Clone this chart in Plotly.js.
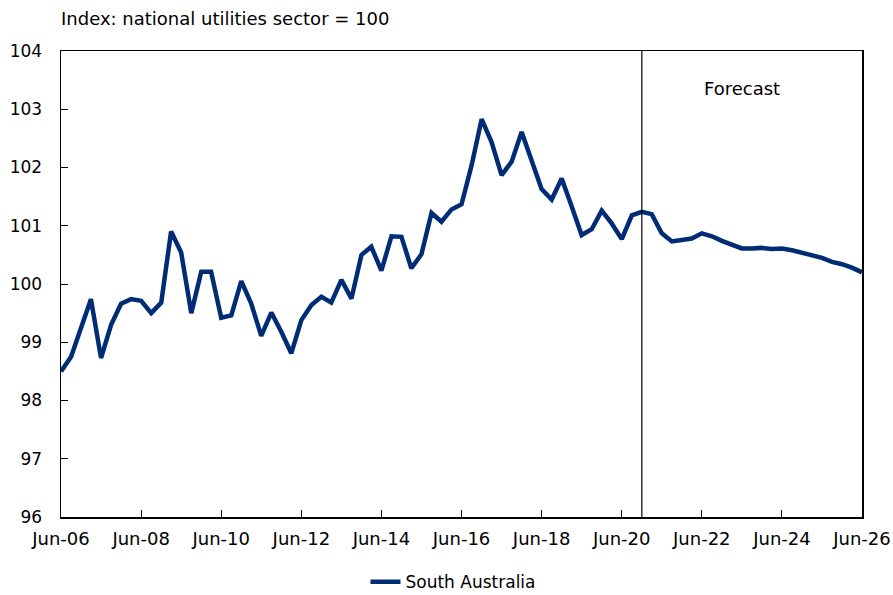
<!DOCTYPE html>
<html>
<head>
<meta charset="utf-8">
<script src="https://cdn.plot.ly/plotly-3.0.1.min.js"></script>
<style>
html,body{margin:0;padding:0;background:#fff;}
#chart{width:893px;height:595px;}
</style>
</head>
<body>
<div id="chart"></div>
<script>
// Quarterly index, Jun-06 .. Jun-26 (81 quarters)
const startYear = 2006;
const startMonth = 6;
const southAustralia = [
  98.50, 98.75, 99.25, 99.74, 98.73, 99.30, 99.66, 99.74, 99.71, 99.50,
  99.68, 100.90, 100.54, 99.50, 100.21, 100.21, 99.42, 99.46, 100.05, 99.67,
  99.11, 99.51, 99.18, 98.81, 99.38, 99.64, 99.78, 99.68, 100.07, 99.75,
  100.50, 100.64, 100.23, 100.82, 100.81, 100.27, 100.51, 101.22, 101.07, 101.28,
  101.37, 102.04, 102.83, 102.44, 101.87, 102.10, 102.61, 102.10, 101.63, 101.45,
  101.81, 101.34, 100.84, 100.94, 101.26, 101.04, 100.77, 101.18, 101.24, 101.20,
  100.87, 100.73, 100.76, 100.78, 100.87, 100.82, 100.74, 100.67, 100.61, 100.61,
  100.62, 100.60, 100.61, 100.58, 100.54, 100.51, 100.45, 100.38, 100.34, 100.28,
  100.20
];
const tickDates = ['2006-06-01','2008-06-01','2010-06-01','2012-06-01','2014-06-01','2016-06-01','2018-06-01','2020-06-01','2022-06-01','2024-06-01','2026-06-01'];
const tickLabels = ['Jun-06','Jun-08','Jun-10','Jun-12','Jun-14','Jun-16','Jun-18','Jun-20','Jun-22','Jun-24','Jun-26'];
const yTicks = [96, 97, 98, 99, 100, 101, 102, 103, 104];
const forecastStart = '2020-12-01';
const forecastLabelX = '2023-06-01';
const forecastLabelY = 103.36;
const seriesName = 'South Australia';
const subtitle = 'Index: national utilities sector = 100';

const dates = southAustralia.map((v, i) => {
  const m0 = (startMonth - 1) + 3 * i;
  const y = startYear + Math.floor(m0 / 12);
  const m = (m0 % 12) + 1;
  return y + '-' + String(m).padStart(2, '0') + '-01';
});

const font = 'DejaVu Sans, Verdana, sans-serif';

const trace = {
  x: dates,
  y: southAustralia,
  type: 'scatter',
  mode: 'lines',
  name: seriesName,
  line: {color: '#002B75', width: 4.5}
};

const layout = {
  width: 893,
  height: 595,
  margin: {l: 61, r: 31, t: 51, b: 78, autoexpand: false},
  paper_bgcolor: '#ffffff',
  plot_bgcolor: '#ffffff',
  showlegend: true,
  legend: {
    orientation: 'h', x: 0.49, xanchor: 'center', y: -0.14, yanchor: 'middle',
    font: {family: font, size: 17, color: '#000'}
  },
  xaxis: {
    type: 'date',
    range: [dates[0], dates[dates.length - 1]],
    tickvals: tickDates,
    ticktext: tickLabels,
    ticks: 'inside',
    ticklen: 7,
    tickwidth: 1,
    tickcolor: '#000',
    showline: true,
    linecolor: '#000',
    linewidth: 1.5,
    mirror: true,
    showgrid: false,
    zeroline: false,
    ticklabelstandoff: 5,
    tickfont: {family: font, size: 18, color: '#000'}
  },
  yaxis: {
    range: [96, 104],
    tickvals: yTicks,
    ticks: 'inside',
    ticklen: 7,
    tickwidth: 1,
    tickcolor: '#000',
    showline: true,
    linecolor: '#000',
    linewidth: 1.5,
    mirror: true,
    showgrid: false,
    zeroline: false,
    ticklabelstandoff: 14,
    tickfont: {family: font, size: 17, color: '#000'}
  },
  shapes: [{
    type: 'line', xref: 'x', yref: 'paper',
    x0: forecastStart, x1: forecastStart, y0: 0, y1: 1,
    line: {color: '#000', width: 1.2}
  }],
  annotations: [
    {
      xref: 'x', yref: 'y', x: forecastLabelX, y: forecastLabelY,
      text: 'Forecast', showarrow: false,
      font: {family: font, size: 18, color: '#000'}
    },
    {
      xref: 'paper', yref: 'paper', x: 0, y: 1, xshift: -2, yshift: 33,
      xanchor: 'left', yanchor: 'middle',
      text: subtitle, showarrow: false,
      font: {family: font, size: 18, color: '#000'}
    }
  ]
};

Plotly.newPlot('chart', [trace], layout, {displayModeBar: false, staticPlot: true});
</script>
</body>
</html>
